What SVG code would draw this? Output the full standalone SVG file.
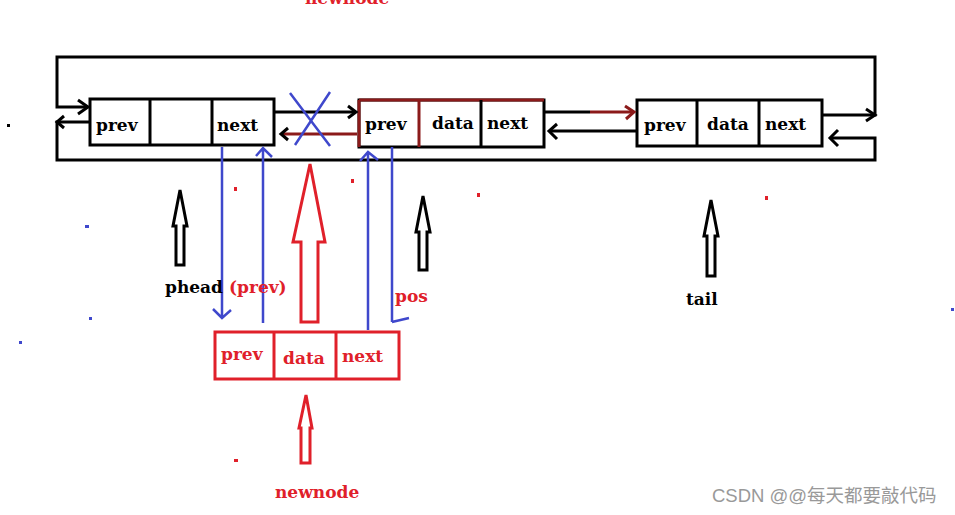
<svg xmlns="http://www.w3.org/2000/svg" width="955" height="515" viewBox="0 0 955 515">
<style>
.bx{fill:#fff;stroke:#000;stroke-width:3}
.rb{fill:#fff;stroke:#e0202a;stroke-width:3}
.ln{fill:none;stroke:#000;stroke-width:3}
.dr{fill:none;stroke:#8b1a1a;stroke-width:3}
.bl{fill:none;stroke:#3f48cc;stroke-width:2.5}
.rl{fill:none;stroke:#e0202a;stroke-width:3}
.t{font-family:"DejaVu Serif","Liberation Serif",serif;font-size:17px;font-weight:bold;fill:#000}
.tr{font-family:"DejaVu Serif","Liberation Serif",serif;font-size:17px;font-weight:bold;fill:#e0202a}
.wm{font-family:"Liberation Sans","Noto Sans CJK SC",sans-serif;font-size:18.5px;fill:#999}
</style>
<rect width="955" height="515" fill="#fff"/>
<g id="phead">
<rect class="bx" x="90" y="99" width="184" height="46"/>
<line class="ln" x1="150" y1="99" x2="150" y2="145"/>
<line class="ln" x1="212" y1="99" x2="212" y2="145"/>
<text class="t" x="96" y="131">prev</text>
<text class="t" x="217" y="131">next</text>
</g>
<g id="pos">
<rect class="bx" x="359" y="100" width="185" height="47"/>
<path class="dr" d="M359,100 H544 M359,100 V147 M419,100 V147"/>
<line class="ln" x1="481" y1="100" x2="481" y2="147"/>
<text class="t" x="365" y="130">prev</text>
<text class="t" x="432" y="129">data</text>
<text class="t" x="487" y="129">next</text>
</g>
<g id="tail">
<rect class="bx" x="637" y="100" width="185" height="46"/>
<line class="ln" x1="697" y1="100" x2="697" y2="146"/>
<line class="ln" x1="759" y1="100" x2="759" y2="146"/>
<text class="t" x="644" y="131">prev</text>
<text class="t" x="707" y="130">data</text>
<text class="t" x="765" y="130">next</text>
</g>
<g id="newnode">
<rect class="rb" x="215" y="332" width="184" height="47"/>
<line class="rl" x1="274" y1="332" x2="274" y2="379"/>
<line class="rl" x1="336" y1="332" x2="336" y2="379"/>
<text class="tr" x="221" y="360">prev</text>
<text class="tr" x="283" y="364">data</text>
<text class="tr" x="342" y="362">next</text>
</g>
<g id="connectors">
<path class="ln" d="M822,115 H875 V57 H57 V107 H88"/>
<path class="ln" d="M78,100 L88,107 L78,114"/>
<path class="ln" d="M866,109 L875,115 L866,121"/>
<path class="ln" d="M90,122 H57 V160 H875 V138 H830"/>
<path class="ln" d="M64,116 L57,122 L64,128"/>
<path class="ln" d="M838,130 L830,138 L838,146"/>
<path class="ln" d="M274,112 H356"/>
<path class="ln" d="M348,106 L356,112 L348,118"/>
<path class="dr" d="M357,134 H282"/>
<path class="ln" d="M288,128 L281,134 L288,140"/>
<path class="bl" d="M290,93 L330,146 M330,92 L295,145"/>
<path class="ln" d="M544,112 H590"/>
<path class="dr" d="M590,112 H634"/>
<path class="dr" d="M625,106 L634,112 L626,119"/>
<path class="ln" d="M637,131 H550"/>
<path class="ln" d="M557,124 L549,131 L557,139"/>
<path class="bl" d="M222,147 V318 M213,309 L222,318 L231,310"/>
<path class="bl" d="M263,323 V148 M256,156 L263,148 L272,157"/>
<path class="bl" d="M368,330 V152 M360,161 L368,152 L378,160"/>
<path class="bl" d="M392,147 V322 M392,322 L409,318"/>
<path class="rl" d="M310,164 L325,242 H318 V322 H301 V242 H293 Z"/>
<path class="rl" d="M306,395 L312,428 H310 V463 H301 V428 H299 Z" stroke-width="2.5"/>
<path class="ln" d="M180,190 L187,226 H184 V265 H176 V226 H173 Z" stroke-width="2.5"/>
<path class="ln" d="M423,196 L430,232 H427 V270 H419 V232 H416 Z" stroke-width="2.5"/>
<path class="ln" d="M711,200 L718,236 H715 V276 H707 V236 H704 Z" stroke-width="2.5"/>
</g>
<g id="labels">
<text class="tr" x="305" y="4">newnode</text>
<text class="t" x="165" y="293">phead</text>
<text class="tr" x="229" y="293">(prev)</text>
<text class="tr" x="395" y="302">pos</text>
<text class="t" x="686" y="305">tail</text>
<text class="tr" x="275" y="498">newnode</text>
<text class="wm" x="712" y="502">CSDN @@每天都要敲代码</text>
</g>
<g id="specks">
<rect x="7" y="124" width="3" height="3" fill="#000"/>
<rect x="85" y="225" width="4" height="3" fill="#3f48cc"/>
<rect x="89" y="317" width="3" height="3" fill="#3f48cc"/>
<rect x="19" y="341" width="3" height="3" fill="#3f48cc"/>
<rect x="951" y="308" width="3" height="3" fill="#3f48cc"/>
<rect x="234" y="187" width="3" height="4" fill="#e0202a"/>
<rect x="351" y="179" width="3" height="4" fill="#e0202a"/>
<rect x="477" y="193" width="3" height="4" fill="#e0202a"/>
<rect x="765" y="196" width="3" height="4" fill="#e0202a"/>
<rect x="234" y="459" width="4" height="3" fill="#e0202a"/>
</g>
</svg>
